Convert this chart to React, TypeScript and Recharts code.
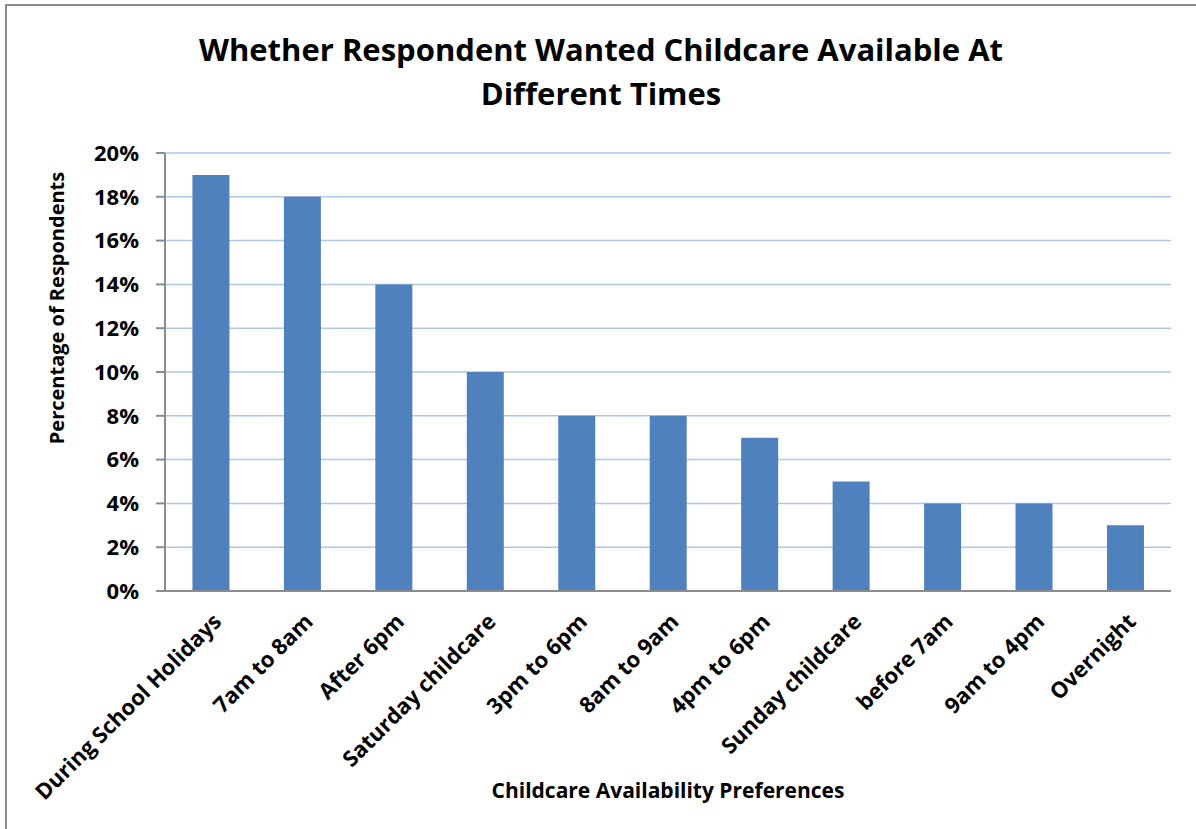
import React from "react";
import {
  BarChart,
  Bar,
  XAxis,
  YAxis,
  CartesianGrid,
  Label,
} from "recharts";

const categories = [
  "During School Holidays",
  "7am to 8am",
  "After 6pm",
  "Saturday childcare",
  "3pm to 6pm",
  "8am to 9am",
  "4pm to 6pm",
  "Sunday childcare",
  "before 7am",
  "9am to 4pm",
  "Overnight",
];

const percentages = [0.19, 0.18, 0.14, 0.1, 0.08, 0.08, 0.07, 0.05, 0.04, 0.04, 0.03];

const yTicks = [0, 0.02, 0.04, 0.06, 0.08, 0.1, 0.12, 0.14, 0.16, 0.18, 0.2];

const chartData = categories.map((name, i) => ({ name, value: percentages[i] }));

const FONT = "'Open Sans', 'DejaVu Sans', sans-serif";

const SlantedTick = (props: any) => {
  const { x, y, payload } = props;
  const ax = x + 12;
  const ay = y + 24;
  return (
    <text
      x={ax}
      y={ay}
      textAnchor="end"
      transform={`rotate(-45, ${ax}, ${ay})`}
      fontFamily={FONT}
      fontWeight={700}
      fontSize={22}
      fill="#000"
    >
      {payload.value}
    </text>
  );
};

export default function App() {
  return (
    <div
      style={{
        position: "absolute",
        left: 0,
        top: 0,
        width: 1196,
        height: 829,
        background: "#fff",
        fontFamily: FONT,
      }}
    >
      {/* frame edges */}
      <div
        style={{
          position: "absolute",
          left: 5,
          top: 4,
          right: 0,
          bottom: 0,
          borderLeft: "2px solid #8c8c8c",
          borderTop: "2px solid #8c8c8c",
        }}
      />
      <div
        style={{
          position: "absolute",
          left: 0,
          top: 27,
          width: 1202,
          textAlign: "center",
          fontWeight: 700,
          fontSize: 31,
          lineHeight: "44px",
          color: "#000",
        }}
      >
        Whether Respondent Wanted Childcare Available At
        <br />
        Different Times
      </div>
      <div style={{ position: "absolute", left: 0, top: 0 }}>
        <BarChart
          width={1196}
          height={829}
          data={chartData}
          margin={{ top: 153, right: 25, bottom: 10, left: 0 }}
          barCategoryGap="30%"
        >
          <CartesianGrid vertical={false} stroke="#b0c6ea" strokeWidth={1.5} />
          <XAxis
            dataKey="name"
            interval={0}
            tickLine={false}
            axisLine={{ stroke: "#8c8c8c", strokeWidth: 2 }}
            height={228}
            tick={<SlantedTick />}
          >
            <Label
              value="Childcare Availability Preferences"
              position="insideBottom"
              offset={21}
              style={{ fontFamily: FONT, fontWeight: 700, fontSize: 21, fill: "#000" }}
            />
          </XAxis>
          <YAxis
            width={165}
            domain={[0, 0.2]}
            ticks={yTicks}
            tickFormatter={(v: number) => `${Math.round(v * 100)}%`}
            axisLine={{ stroke: "#8c8c8c", strokeWidth: 2 }}
            tickLine={{ stroke: "#8c8c8c", strokeWidth: 2 }}
            tickSize={9}
            tickMargin={17}
            tick={{ fontFamily: FONT, fontWeight: 700, fontSize: 22, fill: "#000" }}
          >
            <Label
              value="Percentage of Respondents"
              angle={-90}
              position="insideLeft"
              offset={57}
              dy={-64}
              style={{
                fontFamily: FONT,
                fontWeight: 700,
                fontSize: 20,
                fill: "#000",
                textAnchor: "middle",
              }}
            />
          </YAxis>
          <Bar dataKey="value" fill="#4f81bd" isAnimationActive={false} />
        </BarChart>
      </div>
    </div>
  );
}
